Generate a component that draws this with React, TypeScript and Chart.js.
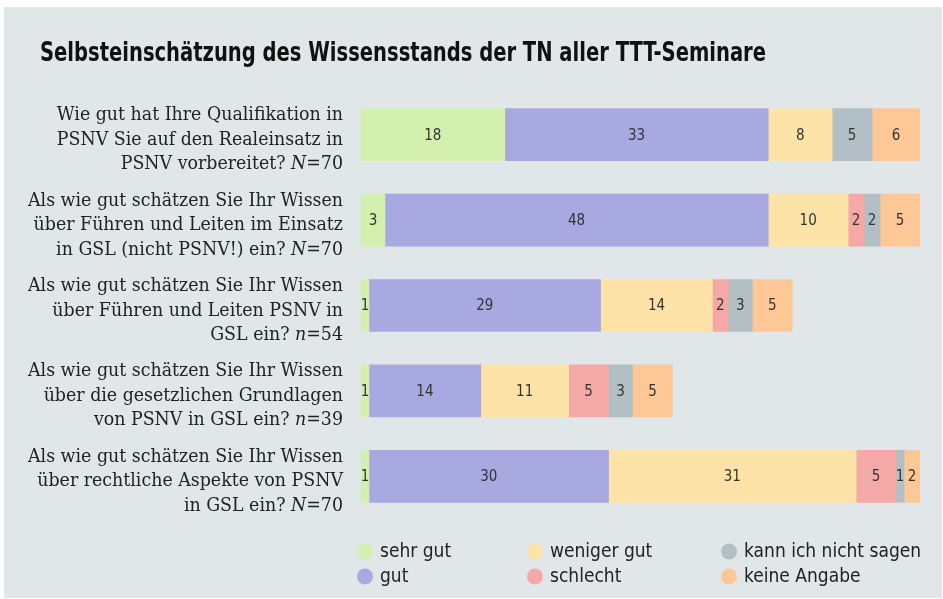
import React, { useEffect, useRef } from "react";
import { Chart, registerables } from "chart.js";

Chart.register(...registerables);

const titleText = "Selbsteinschätzung des Wissensstands der TN aller TTT-Seminare";

const questionLines: string[][] = [
  ["Wie gut hat Ihre Qualifikation in", "PSNV Sie auf den Realeinsatz in", "PSNV vorbereitet?"],
  ["Als wie gut schätzen Sie Ihr Wissen", "über Führen und Leiten im Einsatz", "in GSL (nicht PSNV!) ein?"],
  ["Als wie gut schätzen Sie Ihr Wissen", "über Führen und Leiten PSNV in", "GSL ein?"],
  ["Als wie gut schätzen Sie Ihr Wissen", "über die gesetzlichen Grundlagen", "von PSNV in GSL ein?"],
  ["Als wie gut schätzen Sie Ihr Wissen", "über rechtliche Aspekte von PSNV", "in GSL ein?"],
];
const sampleSymbols = ["N", "N", "n", "n", "N"];
const sampleSizes = [70, 70, 54, 39, 70];
const categories = ["Q1", "Q2", "Q3", "Q4", "Q5"];

const seriesNames = ["sehr gut", "gut", "weniger gut", "schlecht", "kann ich nicht sagen", "keine Angabe"];
const seriesColors = ["#d4f0ae", "#a9a9e1", "#fee3a8", "#f4a9a6", "#b2bfc5", "#fdc796"];

const sehrGut = [18, 3, 1, 1, 1];
const gut = [33, 48, 29, 14, 30];
const wenigerGut = [8, 10, 14, 11, 31];
const schlecht = [0, 2, 2, 5, 5];
const kannNicht = [5, 2, 3, 3, 1];
const keineAngabe = [6, 5, 5, 5, 2];

const seriesValues = [sehrGut, gut, wenigerGut, schlecht, kannNicht, keineAngabe];

const axisMax = 70;

const SANS = "'Liberation Sans Narrow', 'DejaVu Sans Condensed', 'Roboto', sans-serif";
const SERIF = "'DejaVu Serif', 'Liberation Serif', serif";

const decorPlugin = {
  id: "decor",
  afterDatasetsDraw(chart: any) {
    const ctx = chart.ctx as CanvasRenderingContext2D;
    const area = chart.chartArea;
    ctx.save();

    // value labels
    ctx.fillStyle = "#333333";
    ctx.font = `15px ${SANS}`;
    ctx.textAlign = "center";
    ctx.textBaseline = "middle";
    chart.data.datasets.forEach((ds: any, di: number) => {
      const meta = chart.getDatasetMeta(di);
      meta.data.forEach((bar: any, i: number) => {
        const v = ds.data[i];
        if (!v) return;
        const cx = (bar.x + bar.base) / 2;
        ctx.fillText(String(v), cx, bar.y + 1);
      });
    });

    // title
    ctx.font = `bold 26px ${SANS}`;
    ctx.textAlign = "left";
    ctx.textBaseline = "alphabetic";
    ctx.fillStyle = "#111111";
    const targetW = 726;
    const tw = ctx.measureText(titleText).width;
    ctx.save();
    const sx = Math.min(1, targetW / tw);
    ctx.translate(36, 54);
    ctx.scale(sx, 1);
    ctx.fillText(titleText, 0, 0);
    ctx.restore();

    // category labels (serif, right aligned, italic sample symbol)
    const yScale = chart.scales.y;
    const rightX = 339;
    const lineH = 24.5;
    const fontN = `18px ${SERIF}`;
    const fontI = `italic 18px ${SERIF}`;
    ctx.font = fontN;
    const refW = ctx.measureText("Als wie gut schätzen Sie Ihr Wissen").width;
    const lx = 315 / refW;
    ctx.fillStyle = "#222222";
    ctx.textBaseline = "alphabetic";
    ctx.textAlign = "left";
    questionLines.forEach((lines, i) => {
      const cy = yScale.getPixelForValue(i);
      const baseMid = cy + 10;
      lines.forEach((line, li) => {
        const by = baseMid + (li - 1) * lineH;
        const parts: [string, string][] = [];
        if (li < lines.length - 1) {
          parts.push([line, fontN]);
        } else {
          parts.push([line + " ", fontN]);
          parts.push([sampleSymbols[i], fontI]);
          parts.push(["=" + sampleSizes[i], fontN]);
        }
        let total = 0;
        const widths = parts.map(([t, f]) => {
          ctx.font = f;
          const w = ctx.measureText(t).width;
          total += w;
          return w;
        });
        ctx.save();
        ctx.translate(rightX - total * lx, by);
        ctx.scale(lx, 1);
        let x = 0;
        parts.forEach(([t, f], pi) => {
          ctx.font = f;
          ctx.fillText(t, x, 0);
          x += widths[pi];
        });
        ctx.restore();
      });
    });

    // legend (column-major, 3 columns x 2 rows)
    const colOffsets = [0, 170, 364];
    const rowY = [544.5, 569.5];
    ctx.font = `19px ${SANS}`;
    ctx.textAlign = "left";
    ctx.textBaseline = "middle";
    seriesNames.forEach((name, k) => {
      const col = Math.floor(k / 2);
      const row = k % 2;
      const cx = area.left + 4 + colOffsets[col];
      const cy = rowY[row];
      ctx.beginPath();
      ctx.arc(cx, cy, 8, 0, Math.PI * 2);
      ctx.fillStyle = seriesColors[k];
      ctx.fill();
      ctx.fillStyle = "#222222";
      ctx.fillText(name, cx + 15, cy + 1);
    });

    ctx.restore();
  },
};

export default function App() {
  const canvasRef = useRef<HTMLCanvasElement | null>(null);

  useEffect(() => {
    if (!canvasRef.current) return;
    const chart = new Chart(canvasRef.current, {
      type: "bar",
      data: {
        labels: categories,
        datasets: seriesNames.map((name, k) => ({
          label: name,
          data: seriesValues[k],
          backgroundColor: seriesColors[k],
          borderWidth: 0,
          barThickness: 52,
        })),
      },
      options: {
        indexAxis: "y",
        animation: false,
        responsive: true,
        maintainAspectRatio: false,
        layout: { padding: { left: 357, right: 22, top: 85, bottom: 79 } },
        plugins: {
          legend: { display: false },
          title: { display: false },
          tooltip: { enabled: false },
        },
        scales: {
          x: { stacked: true, min: 0, max: axisMax, display: false },
          y: { stacked: true, display: false },
        },
      },
      plugins: [decorPlugin],
    });
    return () => chart.destroy();
  }, []);

  return (
    <div style={{ position: "fixed", left: 0, top: 0, width: 943, height: 599, background: "#ffffff" }}>
      <div style={{ position: "absolute", left: 4, top: 7, width: 938, height: 591, background: "#e1e6e9" }}>
        <canvas ref={canvasRef} />
      </div>
    </div>
  );
}
